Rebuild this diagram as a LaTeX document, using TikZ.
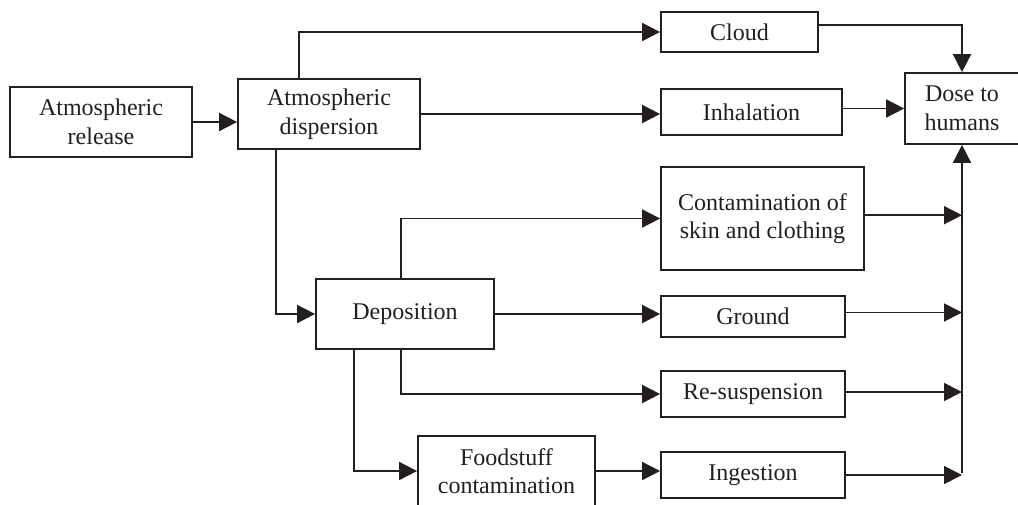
\documentclass[tikz,border=0pt]{standalone}
\usepackage{fontspec}
\setmainfont{Liberation Serif}
\usetikzlibrary{arrows.meta}
\definecolor{ink}{HTML}{231F20}
\begin{document}
\begin{tikzpicture}[x=0.75pt,y=-0.75pt,
  box/.style={draw=ink,line width=1.3pt,text=ink,inner sep=0pt,align=center,
    font=\fontsize{18}{21.5}\selectfont},
  flow/.style={draw=ink,line width=1.3pt,-{Triangle[length=13.5pt,width=13.5pt]}},
  bus/.style={draw=ink,line width=1.3pt}]
\useasboundingbox (0,0) rectangle (1018,504);
\clip (0,0) rectangle (1018,504);

% boxes
\node[box,minimum width=182pt*0.75,minimum height=70pt*0.75] (rel) at (101,122) {Atmospheric\\release};
\node[box,minimum width=182pt*0.75,minimum height=70pt*0.75] (disp) at (329,114) {Atmospheric\\dispersion};
\node[box,minimum width=157pt*0.75,minimum height=40pt*0.75] (cloud) at (739.5,32) {Cloud};
\node[box,minimum width=181pt*0.75,minimum height=46pt*0.75] (inh) at (751.5,112) {Inhalation};
\node[box,minimum width=114pt*0.75,minimum height=71pt*0.75] (dose) at (962,108.5) {Dose to\\humans};
\node[box,minimum width=203pt*0.75,minimum height=103pt*0.75] (cont) at (762.5,218.5) {Contamination of\\skin and clothing};
\node[box,minimum width=178pt*0.75,minimum height=70pt*0.75] (dep) at (405,314) {Deposition};
\node[box,minimum width=184pt*0.75,minimum height=41pt*0.75] (ground) at (753,316.5) {Ground};
\node[box,minimum width=184pt*0.75,minimum height=46pt*0.75] (resus) at (753,394) {Re-suspension};
\node[box,minimum width=177pt*0.75,minimum height=70pt*0.75] (food) at (506.5,471) {Foodstuff\\contamination};
\node[box,minimum width=184pt*0.75,minimum height=46pt*0.75] (ing) at (753,475) {Ingestion};

% collector line into the dose box
\coordinate (busB) at (962,473);
\draw[flow] (busB) -- (dose.south);

% release and dispersion
\draw[flow] (rel.east) -- (rel.east -| disp.west);
\draw[flow] (disp.north -| 299,0) |- (cloud.west);
\draw[flow] (disp.east) -- (disp.east -| inh.west);
\draw[flow] (disp.south -| 276,0) |- (dep.west);

% into the dose box from above and left
\draw[flow] ([yshift=5.25pt]cloud.east) -| (dose.north);
\draw[flow] (dose.west -| inh.east) -- (dose.west);

% deposition branches
\draw[flow] (dep.north -| 401,0) |- (cont.west);
\draw[flow] (dep.east) -- (dep.east -| ground.west);
\draw[flow] (dep.south -| 401,0) |- (resus.west);
\draw[flow] (dep.south -| 354,0) |- (food.west);
\draw[flow] (food.east) -- (food.east -| ing.west);

% pathways to the collector line
\draw[flow] ([yshift=2.5pt]cont.east) -- ([yshift=2.5pt]cont.east -| busB);
\draw[flow] ([yshift=3pt]ground.east) -- ([yshift=3pt]ground.east -| busB);
\draw[flow] ([yshift=1.5pt]resus.east) -- ([yshift=1.5pt]resus.east -| busB);
\draw[flow] (ing.east) -- (ing.east -| busB);
\end{tikzpicture}
\end{document}
